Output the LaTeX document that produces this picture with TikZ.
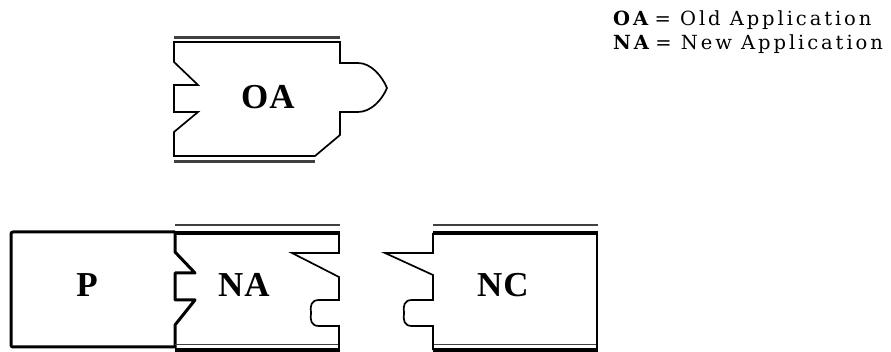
\documentclass[tikz,border=0pt]{standalone}
\usepackage{fontspec}
\setmainfont{Liberation Serif}
\newfontfamily\bigfont[LetterSpace=3]{Liberation Serif}
\newfontfamily\legfont[LetterSpace=15]{DejaVu Serif}
\tikzset{
  outl/.style={line width=1.7pt, line join=miter},
  heavy/.style={line width=3pt, line join=round},
  railthin/.style={line width=1.7pt, black!75},
  railthick/.style={line width=4.5pt},
  lbl/.style={font=\bigfont\fontsize{35}{35}\selectfont\bfseries, inner sep=0pt},
  leg/.style={font=\legfont\fontsize{19.5}{22}\selectfont, inner sep=0pt, anchor=base west}
}
\begin{document}
\begin{tikzpicture}[x=1pt,y=-1pt]
\useasboundingbox (0,0) rectangle (891,352);
% ---------- OA ----------
\draw[railthin, line width=2.2pt] (174,37.5) -- (340,37.5);
\draw[outl] (174,42) -- (174,62) -- (198,85) -- (174,85) -- (174,112) -- (198,112) -- (174,132) -- (174,156)
  -- (315,156) -- (340,135) -- (340,112) -- (358,112)
  .. controls (371,112) and (382,100) .. (387,88)
  .. controls (382,76) and (371,63) .. (358,63)
  -- (340,63) -- (340,42) -- cycle;
\draw[railthin, line width=2.2pt] (174,161.5) -- (315,161.5);
\node[lbl] (oa) at (268,97) {OA};
% ---------- P and NA ----------
\draw[heavy, rounded corners=2pt] (175,232) -- (11,232) -- (11,347) -- (175,347);
\draw[heavy] (175,232) -- (175,252) -- (195,273) -- (175,273) -- (175,300) -- (195,300) -- (175,325) -- (175,348);
\node[lbl] (p) at (87,285) {P};
\draw[railthin] (175,225) -- (340,225);
\draw[railthick] (175,233) -- (340,233);
\draw[railthin] (175,344.5) -- (340,344.5);
\draw[railthick] (175,350.5) -- (340,350.5);
\draw[outl] (339,233) -- (339,253) -- (292,253) -- (339,277) -- (339,300) -- (319,300)
  .. controls (311,300) and (310,306) .. (311,313)
  .. controls (310,320) and (311,326) .. (319,326)
  -- (339,326) -- (339,350);
\node[lbl] (na) at (244,285) {NA};
% ---------- NC ----------
\draw[railthin] (433,225) -- (598,225);
\draw[railthick] (433,233) -- (598,233);
\draw[railthin] (433,344.5) -- (598,344.5);
\draw[railthick] (433,350.5) -- (598,350.5);
\draw[outl] (433,233) -- (433,253) -- (385,253) -- (433,275) -- (433,300) -- (412,300)
  .. controls (404,300) and (403,306) .. (404,313)
  .. controls (403,320) and (404,326) .. (412,326)
  -- (433,326) -- (433,350);
\draw[outl, line width=2pt] (597,233) -- (597,350);
\node[lbl] (nc) at (503,285) {NC};
% ---------- legend ----------
\node[leg] (l1) at (613,26) {\textbf{OA}\,= Old Application};
\node[leg] (l2) at (613,50) {\textbf{NA}\,= New Application};
\end{tikzpicture}
\end{document}
